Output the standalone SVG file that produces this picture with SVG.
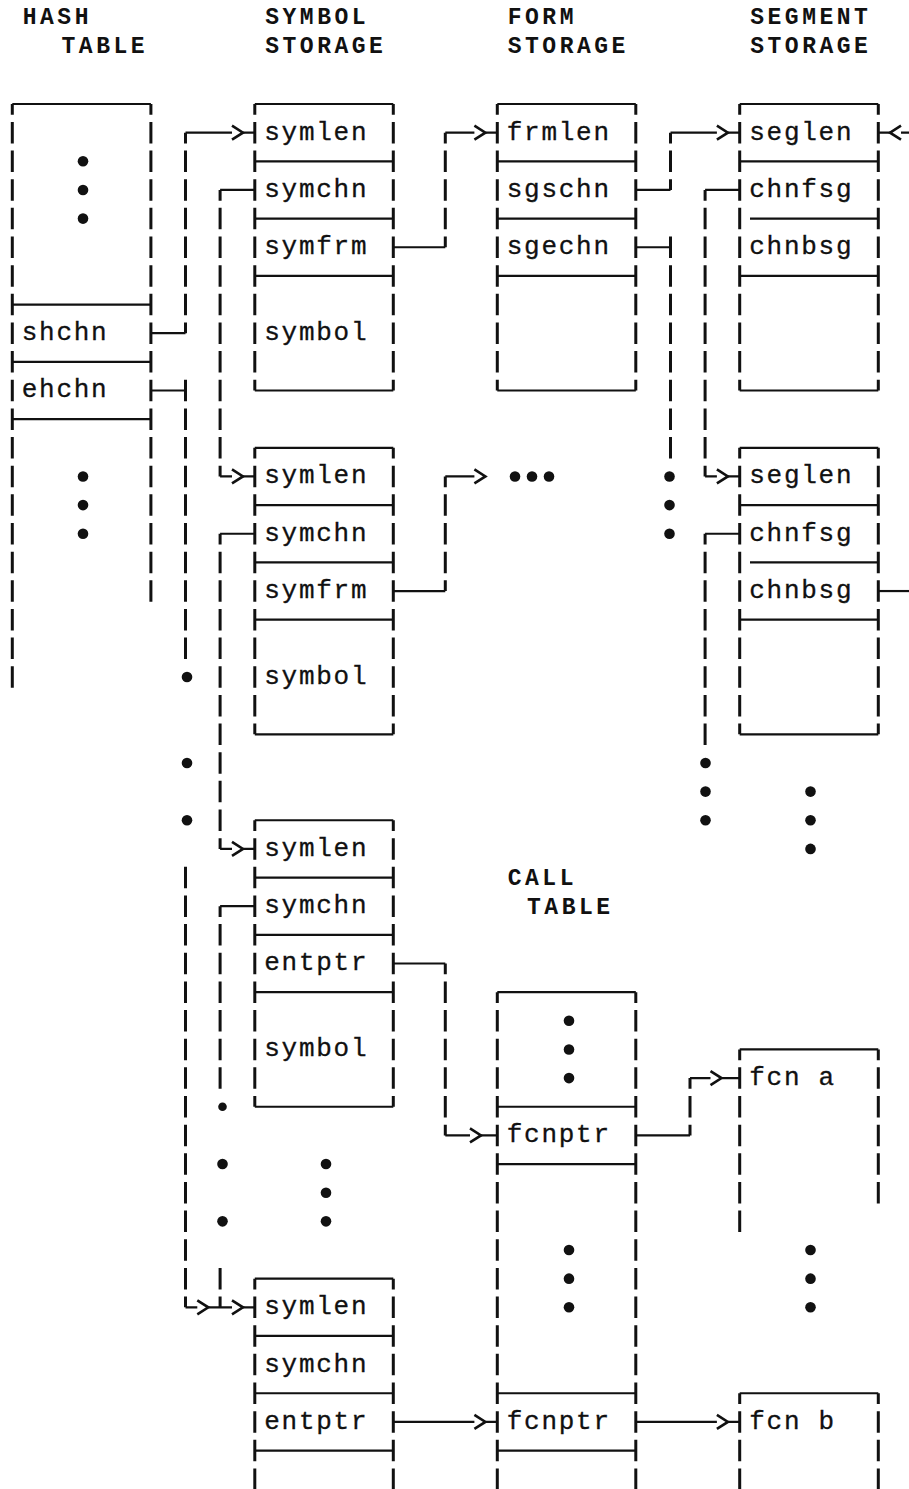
<svg xmlns="http://www.w3.org/2000/svg" width="909" height="1489" viewBox="0 0 909 1489">
<style>
.h{stroke:#111;stroke-width:2.2;fill:none}
.v{stroke:#111;stroke-width:3;fill:none;stroke-dasharray:21.5 7.15;stroke-dashoffset:10.75}
.vo{stroke:#111;stroke-width:3;fill:none;stroke-dasharray:21.5 7.15}
.t{font-family:"Liberation Mono","DejaVu Sans Mono",monospace;font-size:26px;letter-spacing:1.72px;fill:#111;stroke:#111;stroke-width:0.3}
.hd{font-family:"Liberation Mono","DejaVu Sans Mono",monospace;font-size:23px;font-weight:bold;letter-spacing:3.52px;fill:#111}
.d{fill:#111}
</style>
<defs>
<path id="ar" d="M-5.5,-7 L5.5,0 L-5.5,7" fill="none" stroke="#111" stroke-width="2.6"/>
<path id="al" d="M5.5,-7 L-5.5,0 L5.5,7" fill="none" stroke="#111" stroke-width="2.6"/>
</defs>
<rect width="909" height="1489" fill="#fff"/>

<g id="headers">
<text class="hd" x="22.7" y="24.3">HASH</text>
<text class="hd" x="61.5" y="53.4">TABLE</text>
<text class="hd" x="265.2" y="24.3">SYMBOL</text>
<text class="hd" x="265.2" y="53.4">STORAGE</text>
<text class="hd" x="507.7" y="24.3">FORM</text>
<text class="hd" x="507.7" y="53.4">STORAGE</text>
<text class="hd" x="750.2" y="24.3">SEGMENT</text>
<text class="hd" x="750.2" y="53.4">STORAGE</text>
<text class="hd" x="507.7" y="885.1">CALL</text>
<text class="hd" x="527" y="913.8">TABLE</text>
</g>

<g id="hash-table">
<path class="h" d="M12.3,104 H150.9 M12.3,304.55 H150.9 M12.3,361.85 H150.9 M12.3,419.15 H150.9"/>
<line class="v" x1="12.3" y1="104" x2="12.3" y2="687.75"/>
<line class="v" x1="150.9" y1="104" x2="150.9" y2="601.8"/>
<circle class="d" cx="83" cy="161.3" r="5.3"/>
<circle class="d" cx="83" cy="189.95" r="5.3"/>
<circle class="d" cx="83" cy="218.6" r="5.3"/>
<text class="t" x="21.8" y="340.1">shchn</text>
<text class="t" x="21.8" y="397.4">ehchn</text>
<circle class="d" cx="83" cy="476.45" r="5.3"/>
<circle class="d" cx="83" cy="505.1" r="5.3"/>
<circle class="d" cx="83" cy="533.75" r="5.3"/>
</g>

<g id="symbol-1">
<path class="h" d="M254.8,104 H393.3 M254.8,161.3 H393.3 M254.8,218.6 H393.3 M254.8,275.9 H393.3 M254.8,390.5 H393.3"/>
<line class="v" x1="254.8" y1="104" x2="254.8" y2="390.5"/>
<line class="v" x1="393.3" y1="104" x2="393.3" y2="390.5"/>
<text class="t" x="264.3" y="139.55">symlen</text>
<text class="t" x="264.3" y="196.85">symchn</text>
<text class="t" x="264.3" y="254.15">symfrm</text>
<text class="t" x="264.3" y="340.1">symbol</text>
</g>

<g id="symbol-2">
<path class="h" d="M254.8,447.8 H393.3 M254.8,505.1 H393.3 M254.8,562.4 H393.3 M254.8,619.7 H393.3 M254.8,734.3 H393.3"/>
<line class="v" x1="254.8" y1="447.8" x2="254.8" y2="734.3"/>
<line class="v" x1="393.3" y1="447.8" x2="393.3" y2="734.3"/>
<text class="t" x="264.3" y="483.35">symlen</text>
<text class="t" x="264.3" y="540.65">symchn</text>
<text class="t" x="264.3" y="597.95">symfrm</text>
<text class="t" x="264.3" y="683.9">symbol</text>
</g>

<g id="symbol-3">
<path class="h" d="M254.8,820.25 H393.3 M254.8,877.55 H393.3 M254.8,934.85 H393.3 M254.8,992.15 H393.3 M254.8,1106.75 H393.3"/>
<line class="v" x1="254.8" y1="820.25" x2="254.8" y2="1106.75"/>
<line class="v" x1="393.3" y1="820.25" x2="393.3" y2="1106.75"/>
<text class="t" x="264.3" y="855.8">symlen</text>
<text class="t" x="264.3" y="913.1">symchn</text>
<text class="t" x="264.3" y="970.4">entptr</text>
<text class="t" x="264.3" y="1056.35">symbol</text>
</g>

<g id="symbol-4">
<path class="h" d="M254.8,1278.65 H393.3 M254.8,1335.95 H393.3 M254.8,1393.25 H393.3 M254.8,1450.55 H393.3"/>
<line class="v" x1="254.8" y1="1278.65" x2="254.8" y2="1489.95"/>
<line class="v" x1="393.3" y1="1278.65" x2="393.3" y2="1489.95"/>
<text class="t" x="264.3" y="1314.2">symlen</text>
<text class="t" x="264.3" y="1371.5">symchn</text>
<text class="t" x="264.3" y="1428.8">entptr</text>
</g>

<g id="form-storage">
<path class="h" d="M497.3,104 H635.8 M497.3,161.3 H635.8 M497.3,218.6 H635.8 M497.3,275.9 H635.8 M497.3,390.5 H635.8"/>
<line class="v" x1="497.3" y1="104" x2="497.3" y2="390.5"/>
<line class="v" x1="635.8" y1="104" x2="635.8" y2="390.5"/>
<text class="t" x="506.8" y="139.55">frmlen</text>
<text class="t" x="506.8" y="196.85">sgschn</text>
<text class="t" x="506.8" y="254.15">sgechn</text>
</g>

<g id="segment-1">
<path class="h" d="M739.7,104 H878.3 M739.7,161.3 H878.3 M750,218.6 H878.3 M739.7,275.9 H878.3 M739.7,390.5 H878.3"/>
<line class="v" x1="739.7" y1="104" x2="739.7" y2="390.5"/>
<line class="v" x1="878.3" y1="104" x2="878.3" y2="390.5"/>
<text class="t" x="749.3" y="139.55">seglen</text>
<text class="t" x="749.3" y="196.85">chnfsg</text>
<text class="t" x="749.3" y="254.15">chnbsg</text>
</g>

<g id="segment-2">
<path class="h" d="M739.7,447.8 H878.3 M739.7,505.1 H878.3 M750,562.4 H878.3 M739.7,619.7 H878.3 M739.7,734.3 H878.3"/>
<line class="v" x1="739.7" y1="447.8" x2="739.7" y2="734.3"/>
<line class="v" x1="878.3" y1="447.8" x2="878.3" y2="734.3"/>
<text class="t" x="749.3" y="483.35">seglen</text>
<text class="t" x="749.3" y="540.65">chnfsg</text>
<text class="t" x="749.3" y="597.95">chnbsg</text>
</g>

<g id="call-table">
<path class="h" d="M497.3,992.15 H635.8 M497.3,1106.75 H635.8 M497.3,1164.05 H635.8 M497.3,1393.25 H635.8 M497.3,1450.55 H635.8"/>
<line class="v" x1="497.3" y1="992.15" x2="497.3" y2="1489.95"/>
<line class="v" x1="635.8" y1="992.15" x2="635.8" y2="1489.95"/>
<circle class="d" cx="569" cy="1020.8" r="5.3"/>
<circle class="d" cx="569" cy="1049.45" r="5.3"/>
<circle class="d" cx="569" cy="1078.1" r="5.3"/>
<text class="t" x="506.8" y="1142.3">fcnptr</text>
<circle class="d" cx="569" cy="1250" r="5.3"/>
<circle class="d" cx="569" cy="1278.65" r="5.3"/>
<circle class="d" cx="569" cy="1307.3" r="5.3"/>
<text class="t" x="506.8" y="1428.8">fcnptr</text>
</g>

<g id="fcn-a">
<path class="h" d="M739.7,1049.45 H878.3"/>
<line class="v" x1="739.7" y1="1049.45" x2="739.7" y2="1232.1"/>
<line class="v" x1="878.3" y1="1049.45" x2="878.3" y2="1203.45"/>
<text class="t" x="749.3" y="1085">fcn a</text>
</g>

<g id="fcn-b">
<path class="h" d="M739.7,1393.25 H878.3"/>
<line class="v" x1="739.7" y1="1393.25" x2="739.7" y2="1489.95"/>
<line class="v" x1="878.3" y1="1393.25" x2="878.3" y2="1489.95"/>
<text class="t" x="749.3" y="1428.8">fcn b</text>
</g>

<g id="ellipses">
<circle class="d" cx="810.5" cy="791.6" r="5.3"/>
<circle class="d" cx="810.5" cy="820.25" r="5.3"/>
<circle class="d" cx="810.5" cy="848.9" r="5.3"/>
<circle class="d" cx="326" cy="1164.05" r="5.3"/>
<circle class="d" cx="326" cy="1192.7" r="5.3"/>
<circle class="d" cx="326" cy="1221.35" r="5.3"/>
<circle class="d" cx="810.5" cy="1250" r="5.3"/>
<circle class="d" cx="810.5" cy="1278.65" r="5.3"/>
<circle class="d" cx="810.5" cy="1307.3" r="5.3"/>
</g>

<g id="connectors">
<!-- shchn -> symlen 1 -->
<path class="h" d="M150.9,333.2 H185.5 M185.5,132.65 H232 M243,132.65 H254.8"/>
<line class="v" x1="185.5" y1="132.65" x2="185.5" y2="333.2"/>
<use href="#ar" x="237.5" y="132.65"/>
<!-- ehchn chain -->
<path class="h" d="M150.9,390.5 H185.5"/>
<line class="vo" x1="185.5" y1="379.75" x2="185.5" y2="659.1"/>
<circle class="d" cx="187" cy="677" r="5.3"/>
<circle class="d" cx="187" cy="762.95" r="5.3"/>
<circle class="d" cx="187" cy="820.25" r="5.3"/>
<line class="vo" x1="185.5" y1="866.8" x2="185.5" y2="1307.3"/>
<path class="h" d="M185.5,1307.3 H197.3 M208.3,1307.3 H232 M243,1307.3 H254.8"/>
<use href="#ar" x="202.8" y="1307.3"/>
<use href="#ar" x="237.5" y="1307.3"/>
<!-- symchn chains -->
<path class="h" d="M220.1,189.95 H254.8 M220.1,476.45 H232 M243,476.45 H254.8"/>
<line class="v" x1="220.1" y1="189.95" x2="220.1" y2="476.45"/>
<use href="#ar" x="237.5" y="476.45"/>
<path class="h" d="M220.1,533.75 H254.8 M220.1,848.9 H232 M243,848.9 H254.8"/>
<line class="v" x1="220.1" y1="533.75" x2="220.1" y2="848.9"/>
<use href="#ar" x="237.5" y="848.9"/>
<path class="h" d="M220.1,906.2 H254.8"/>
<line class="v" x1="220.1" y1="906.2" x2="220.1" y2="1088.85"/>
<circle class="d" cx="222.5" cy="1106.75" r="4.3"/>
<circle class="d" cx="222.5" cy="1164.05" r="5.3"/>
<circle class="d" cx="222.5" cy="1221.35" r="5.3"/>
<line class="vo" x1="220.1" y1="1267.9" x2="220.1" y2="1307.3"/>
<!-- symfrm -> frmlen -->
<path class="h" d="M393.3,247.25 H445.3 M445.3,132.65 H474.4 M485.4,132.65 H497.3"/>
<line class="v" x1="445.3" y1="132.65" x2="445.3" y2="247.25"/>
<use href="#ar" x="479.9" y="132.65"/>
<path class="h" d="M393.3,591.05 H445.3 M445.3,476.45 H474.4"/>
<line class="v" x1="445.3" y1="476.45" x2="445.3" y2="591.05"/>
<use href="#ar" x="479.9" y="476.45"/>
<circle class="d" cx="515" cy="476.45" r="5.3"/>
<circle class="d" cx="532" cy="476.45" r="5.3"/>
<circle class="d" cx="549" cy="476.45" r="5.3"/>
<!-- entptr -> fcnptr -->
<path class="h" d="M393.3,963.5 H445.3 M445.3,1135.4 H470 M481,1135.4 H497.3"/>
<line class="v" x1="445.3" y1="963.5" x2="445.3" y2="1135.4"/>
<use href="#ar" x="475.5" y="1135.4"/>
<path class="h" d="M393.3,1421.9 H474.4 M485.4,1421.9 H497.3"/>
<use href="#ar" x="479.9" y="1421.9"/>
<!-- sgschn / sgechn -->
<path class="h" d="M635.8,189.95 H670.5 M670.5,132.65 H716.9 M727.9,132.65 H739.7"/>
<line class="v" x1="670.5" y1="132.65" x2="670.5" y2="189.95"/>
<use href="#ar" x="722.4" y="132.65"/>
<path class="h" d="M635.8,247.25 H670.5"/>
<line class="vo" x1="670.5" y1="236.5" x2="670.5" y2="458.55"/>
<circle class="d" cx="669.5" cy="476.45" r="5.3"/>
<circle class="d" cx="669.5" cy="505.1" r="5.3"/>
<circle class="d" cx="669.5" cy="533.75" r="5.3"/>
<!-- chnfsg -->
<path class="h" d="M705.1,189.95 H739.7 M705.1,476.45 H716.9 M727.9,476.45 H739.7"/>
<line class="v" x1="705.1" y1="189.95" x2="705.1" y2="476.45"/>
<use href="#ar" x="722.4" y="476.45"/>
<path class="h" d="M705.1,533.75 H739.7"/>
<line class="v" x1="705.1" y1="533.75" x2="705.1" y2="745.05"/>
<circle class="d" cx="705.5" cy="762.95" r="5.3"/>
<circle class="d" cx="705.5" cy="791.6" r="5.3"/>
<circle class="d" cx="705.5" cy="820.25" r="5.3"/>
<!-- chnbsg back link -->
<path class="h" d="M878.3,132.65 H890 M901,132.65 H909"/>
<use href="#al" x="895.5" y="132.65"/>
<path class="h" d="M878.3,591.05 H909"/>
<!-- fcnptr -> fcn a / fcn b -->
<path class="h" d="M635.8,1135.4 H690 M690,1078.1 H710.5 M721.5,1078.1 H739.7"/>
<line class="v" x1="690" y1="1078.1" x2="690" y2="1135.4"/>
<use href="#ar" x="716" y="1078.1"/>
<path class="h" d="M635.8,1421.9 H716.9 M727.9,1421.9 H739.7"/>
<use href="#ar" x="722.4" y="1421.9"/>
</g>
</svg>
